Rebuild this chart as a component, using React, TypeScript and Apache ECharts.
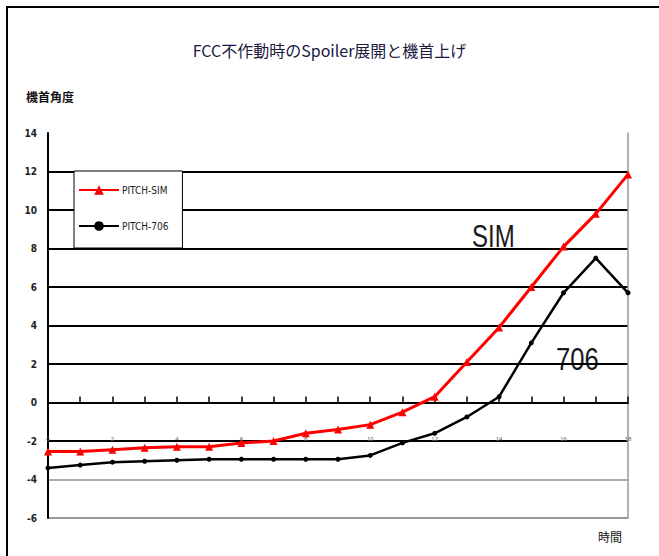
import React, { useEffect, useRef } from "react";
import * as echarts from "echarts";

const categories = ["0","1","2","3","4","5","6","7","8","9","10","11","12","13","14","15","16","17","18"];
const pitchSim = [-2.55,-2.55,-2.45,-2.35,-2.3,-2.3,-2.1,-2.0,-1.6,-1.4,-1.15,-0.5,0.3,2.1,3.9,6.0,8.1,9.8,11.85];
const pitch706 = [-3.4,-3.25,-3.1,-3.05,-3.0,-2.95,-2.95,-2.95,-2.95,-2.95,-2.75,-2.1,-1.6,-0.75,0.3,3.1,5.7,7.5,5.7];
const seriesNames = ["PITCH-SIM", "PITCH-706"];
const titleText = "FCC不作動時のSpoiler展開と機首上げ";
const yName = "機首角度";
const xName = "時間";

export default function App() {
  const ref = useRef<HTMLDivElement>(null);
  useEffect(() => {
    if (!ref.current) return;
    const chart = echarts.init(ref.current, null, { renderer: "svg" });
    const narrow = "'Liberation Sans Narrow', 'DejaVu Sans Condensed', 'Liberation Sans', sans-serif";
    chart.setOption({
      animation: false,
      backgroundColor: "#fff",
      title: {
        text: titleText,
        left: "center",
        top: 37,
        textStyle: { fontSize: 16, fontWeight: "normal", color: "#1a1a40", fontFamily: "'Noto Sans CJK JP', sans-serif" },
      },
      legend: {
        orient: "vertical",
        left: 74,
        top: 171,
        itemWidth: 40,
        itemHeight: 12,
        itemGap: 26,
        padding: [14, 14, 17, 4],
        backgroundColor: "#fff",
        borderColor: "#000",
        borderWidth: 1,
        textStyle: { fontSize: 10, color: "#222", fontFamily: narrow, padding: [0, 0, 0, -2] },
        data: seriesNames,
      },
      grid: { left: 48, right: 31, top: 133, bottom: 38, containLabel: false },
      xAxis: {
        type: "category",
        data: categories,
        boundaryGap: false,
        axisLine: { onZero: true, onZeroAxisIndex: 0, lineStyle: { color: "#000", width: 2 } },
        axisTick: { show: true, inside: true, length: 6, interval: 0, lineStyle: { color: "#000", width: 1.5 } },
        axisLabel: { interval: 1, margin: -82, fontSize: 6, color: "#666" },
        splitLine: { show: false },
      },
      yAxis: [
        {
          type: "value",
          min: -6,
          max: 14,
          interval: 2,
          axisLine: { show: true, lineStyle: { color: "#000", width: 2 } },
          axisTick: { show: false },
          axisLabel: { margin: 11, fontSize: 10, fontWeight: "bold", color: "#222", fontFamily: narrow },
          splitLine: {
            show: true,
            lineStyle: {
              width: 2,
              color: ["#999", "#aaa", "#000", "#000", "#000", "#000", "#000", "#000", "#000", "#000", "rgba(0,0,0,0)"],
            },
          },
        },
        {
          type: "value",
          min: -6,
          max: 14,
          interval: 2,
          position: "right",
          axisLine: { show: true, lineStyle: { color: "#999", width: 1.5 } },
          axisTick: { show: false },
          axisLabel: { show: false },
          splitLine: { show: false },
        },
      ],
      series: [
        {
          name: seriesNames[0],
          type: "line",
          data: pitchSim,
          symbol: "triangle",
          symbolSize: 8,
          itemStyle: { color: "#ff0000" },
          lineStyle: { color: "#ff0000", width: 3 },
          z: 3,
        },
        {
          name: seriesNames[1],
          type: "line",
          data: pitch706,
          symbol: "circle",
          symbolSize: 5,
          itemStyle: { color: "#000" },
          lineStyle: { color: "#000", width: 2.5 },
          z: 2,
        },
      ],
      graphic: [
        { type: "polyline", shape: { points: [[7, 556], [7, 7], [659, 7]] }, style: { stroke: "#000", lineWidth: 2, fill: "none" } },
        {
          type: "text",
          left: 26,
          top: 90,
          style: { text: yName, fontSize: 12, fontWeight: "bold", fill: "#111", fontFamily: "'Noto Sans CJK JP', sans-serif" },
        },
        {
          type: "text",
          left: 598,
          top: 530,
          style: { text: xName, fontSize: 12, fill: "#111", fontFamily: "'Noto Sans CJK JP', sans-serif" },
        },
        {
          type: "text",
          x: 472,
          y: 220,
          scaleX: 0.75,
          style: { text: "SIM", fontSize: 32, fill: "#1a1a1a", fontFamily: "'Liberation Sans', sans-serif" },
        },
        {
          type: "text",
          x: 556,
          y: 343,
          scaleX: 0.8,
          style: { text: "706", fontSize: 32, fill: "#1a1a1a", fontFamily: "'Liberation Sans', sans-serif" },
        },
      ],
    });
    return () => chart.dispose();
  }, []);
  return <div ref={ref} style={{ width: 659, height: 556, position: "absolute", left: 0, top: 0 }} />;
}
